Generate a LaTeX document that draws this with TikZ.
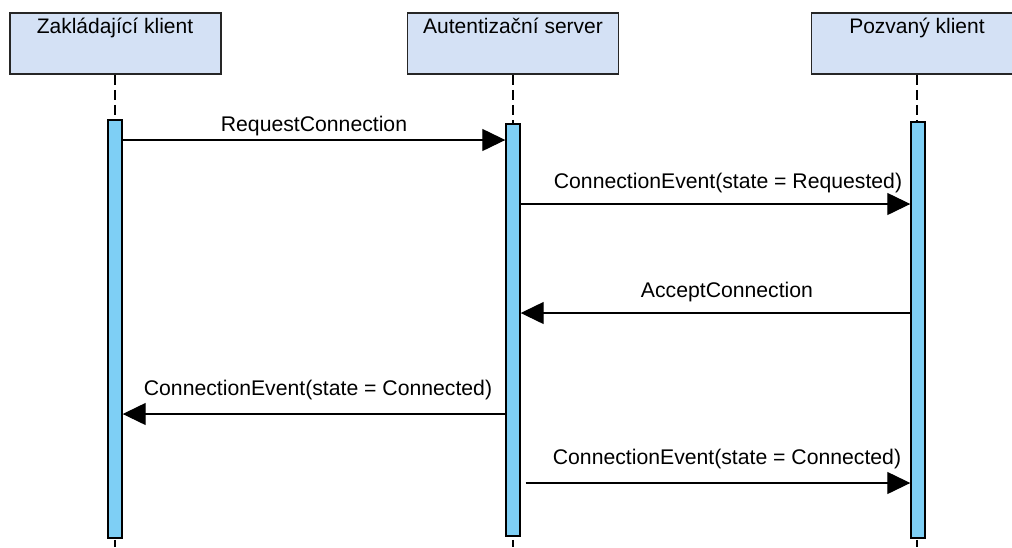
\documentclass[tikz,border=0pt]{standalone}
\usepackage{fontspec}
\setmainfont{Liberation Sans}
\usetikzlibrary{arrows.meta}
\definecolor{headfill}{RGB}{212,225,245}
\definecolor{barfill}{RGB}{126,207,245}
\tikzset{
  head/.style={draw=black!85, line width=1.9pt, fill=headfill, minimum width=211pt, minimum height=61pt, inner sep=0pt},
  headtext/.style={anchor=base, font=\fontsize{21}{25}\selectfont, inner sep=0pt},
  lifeline/.style={line width=1.5pt, dash pattern=on 10pt off 5pt},
  actbar/.style={draw=black, line width=1.4pt, fill=barfill, minimum width=14pt, inner sep=0pt},
  msg/.style={line width=1.3pt, -{Triangle[length=23pt, width=22pt]}},
  msgtext/.style={anchor=base, font=\fontsize{21.2}{25}\selectfont, inner sep=0pt}
}
\begin{document}
\begin{tikzpicture}[x=1pt, y=-1pt]
  \useasboundingbox (0,0) rectangle (1012,547);
  \clip (0,0) rectangle (1012,547);

  % participant heads
  \node[head] (A) at (115.5,43.5) {};
  \node[head] (B) at (513,43.5) {};
  \node[head] (C) at (917,43.5) {};
  \node[headtext] (At) at (115,33) {Zakládající klient};
  \node[headtext] (Bt) at (513,33) {Autentizační server};
  \node[headtext] (Ct) at (917,33) {Pozvaný klient};

  % lifelines
  \draw[lifeline] (A.south -| 115,0) -- (115,547);
  \draw[lifeline] (B.south -| 513,0) -- (513,547);
  \draw[lifeline] (C.south -| 917,0) -- (917,547);

  % activation bars
  \node[actbar, minimum height=418pt] (barA) at (115,329) {};
  \node[actbar, minimum height=412pt] (barB) at (513,330) {};
  \node[actbar, minimum height=416pt] (barC) at (918,330) {};

  % messages
  \draw[msg] (barA.east |- 0,140) -- (barB.west |- 0,140);
  \node[msgtext] (m1) at (314,131) {RequestConnection};

  \draw[msg] (barB.east |- 0,204) -- (barC.west |- 0,204);
  \node[msgtext] (m2) at (728,188) {ConnectionEvent(state = Requested)};

  \draw[msg] (barC.west |- 0,313) -- (barB.east |- 0,313);
  \node[msgtext] (m3) at (727,297) {AcceptConnection};

  \draw[msg] (barB.west |- 0,414) -- (barA.east |- 0,414);
  \node[msgtext] (m4) at (318,395) {ConnectionEvent(state = Connected)};

  \draw[msg] ([xshift=5pt]barB.east |- 0,483) -- (barC.west |- 0,483);
  \node[msgtext] (m5) at (727,464) {ConnectionEvent(state = Connected)};
\end{tikzpicture}
\end{document}
